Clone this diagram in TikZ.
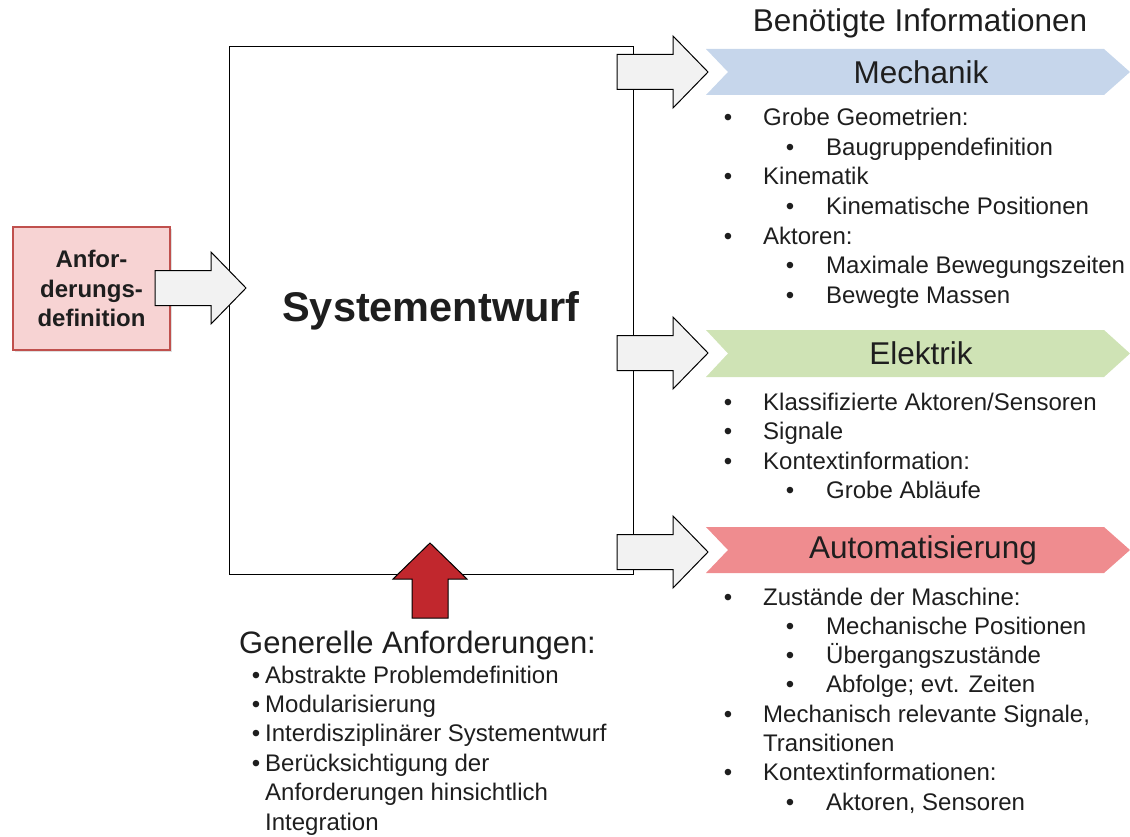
\documentclass[tikz,border=0pt]{standalone}
\usepackage{fontspec}
\setmainfont{Liberation Sans}
\usetikzlibrary{shadows}

\definecolor{mechblue}{HTML}{C6D6EB}
\definecolor{elekgreen}{HTML}{CFE3B5}
\definecolor{autored}{HTML}{EF8C8F}
\definecolor{reqfill}{HTML}{F7D3D3}
\definecolor{reqline}{HTML}{C0504D}
\definecolor{arrowgray}{HTML}{F2F2F2}
\definecolor{upred}{HTML}{C1272D}
\definecolor{ink}{HTML}{1E1E1E}

\begin{document}
\begin{tikzpicture}[x=1pt,y=-1pt,
  itm/.style={anchor=base west, inner sep=0pt, text=ink, font=\fontsize{24}{29}\selectfont},
  bul/.style={anchor=base, inner sep=0pt, text=ink, font=\fontsize{24}{29}\selectfont},
  headtxt/.style={inner sep=0pt, text=ink, font=\fontsize{31.5}{36}\selectfont},
  arrowshape/.style={draw=black, line width=1pt, fill=arrowgray, line join=miter},
  blockarrow/.pic={\path[arrowshape] (0,-17.5) -- (56,-17.5) -- (56,-36) -- (91,0)
      -- (56,36) -- (56,17.5) -- (0,17.5) -- cycle;},
]
\useasboundingbox (0,0) rectangle (1130,837);

% central design block
\node[draw=black, line width=1pt, minimum width=404pt, minimum height=527pt,
      inner sep=0pt, text=ink, font=\bfseries\fontsize{41.5}{48}\selectfont]
      (sys) at (431,310.5) {Systementwurf};

% requirement definition input
\node[draw=reqline, fill=reqfill, line width=1.5pt, minimum width=157pt,
      minimum height=123pt, align=center, text=ink,
      font=\bfseries\fontsize{24}{29.5}\selectfont,
      drop shadow={opacity=0.25, shadow xshift=2pt, shadow yshift=-2pt}]
      (req) at (91.5,288.5) {Anfor-\\derungs-\\definition};

% block arrows
\pic (inarrow) at (155,288) {blockarrow};
\pic (outmech) at (617,72) {blockarrow};
\pic (outelek) at (617,353) {blockarrow};
\pic (outauto) at (617,552) {blockarrow};

% general requirements arrow (pointing up)
\path[draw=black, line width=1pt, fill=upred, line join=miter]
  (412,618) -- (412,579) -- (393,579) -- (430,543) -- (467,579)
  -- (448,579) -- (448,618) -- cycle;

% domain chevrons
\fill[mechblue]  (706,49)  -- (1104,49)  -- (1130,72)    -- (1104,95)  -- (706,95)  -- (728,72) -- cycle;
\fill[elekgreen] (706,330) -- (1104,330) -- (1130,353.5) -- (1104,377) -- (706,377) -- (728,353.5) -- cycle;
\fill[autored]   (706,527) -- (1104,527) -- (1130,550)   -- (1104,573) -- (706,573) -- (728,550) -- cycle;

\node[headtxt, anchor=base] (info) at (920,32) {Benötigte Informationen};
\node[headtxt] (mech) at (921,72) {Mechanik};
\node[headtxt] (elek) at (921,353.5) {Elektrik};
\node[headtxt] (auto) at (923,550) {Automatisierung};

% Mechanik
\node[bul] at (728,126)   {•}; \node[itm] (m1) at (763,126)   {Grobe Geometrien:};
\node[bul] at (790,155.5) {•}; \node[itm] (m2) at (826,155.5) {Baugruppendefinition};
\node[bul] at (728,185)   {•}; \node[itm] (m3) at (763,185)   {Kinematik};
\node[bul] at (790,214.5) {•}; \node[itm] (m4) at (826,214.5) {Kinematische Positionen};
\node[bul] at (728,244)   {•}; \node[itm] (m5) at (763,244)   {Aktoren:};
\node[bul] at (790,273.5) {•}; \node[itm] (m6) at (826,273.5) {Maximale Bewegungszeiten};
\node[bul] at (790,303)   {•}; \node[itm] (m7) at (826,303)   {Bewegte Massen};

% Elektrik
\node[bul] at (728,410)   {•}; \node[itm] (e1) at (763,410)   {Klassifizierte Aktoren/Sensoren};
\node[bul] at (728,439.5) {•}; \node[itm] (e2) at (763,439.5) {Signale};
\node[bul] at (728,469)   {•}; \node[itm] (e3) at (763,469)   {Kontextinformation:};
\node[bul] at (790,498.5) {•}; \node[itm] (e4) at (826,498.5) {Grobe Abläufe};

% Automatisierung
\node[bul] at (728,605)   {•}; \node[itm] (a1) at (763,605)   {Zustände der Maschine:};
\node[bul] at (790,634.3) {•}; \node[itm] (a2) at (826,634.3) {Mechanische Positionen};
\node[bul] at (790,663.6) {•}; \node[itm] (a3) at (826,663.6) {Übergangszustände};
\node[bul] at (790,692.9) {•}; \node[itm] (a4) at (826,692.9) {Abfolge; evt. Zeiten};
\node[bul] at (728,722.2) {•}; \node[itm] (a5) at (763,722.2) {Mechanisch relevante Signale,};
                               \node[itm] (a6) at (763,751.5) {Transitionen};
\node[bul] at (728,780.8) {•}; \node[itm] (a7) at (763,780.8) {Kontextinformationen:};
\node[bul] at (790,810.1) {•}; \node[itm] (a8) at (826,810.1) {Aktoren, Sensoren};

% general requirements
\node[anchor=base west, inner sep=0pt, text=ink, font=\fontsize{31}{36}\selectfont]
  (gen) at (239,653) {Generelle Anforderungen:};
\node[bul] at (256,683)   {•}; \node[itm] (g1) at (265,683)   {Abstrakte Problemdefinition};
\node[bul] at (256,712.4) {•}; \node[itm] (g2) at (265,712.4) {Modularisierung};
\node[bul] at (256,741.8) {•}; \node[itm] (g3) at (265,741.8) {Interdisziplinärer Systementwurf};
\node[bul] at (256,771.2) {•}; \node[itm] (g4) at (265,771.2) {Berücksichtigung der};
                               \node[itm] (g5) at (265,800.6) {Anforderungen hinsichtlich};
                               \node[itm] (g6) at (265,830)   {Integration};
\end{tikzpicture}
\end{document}
